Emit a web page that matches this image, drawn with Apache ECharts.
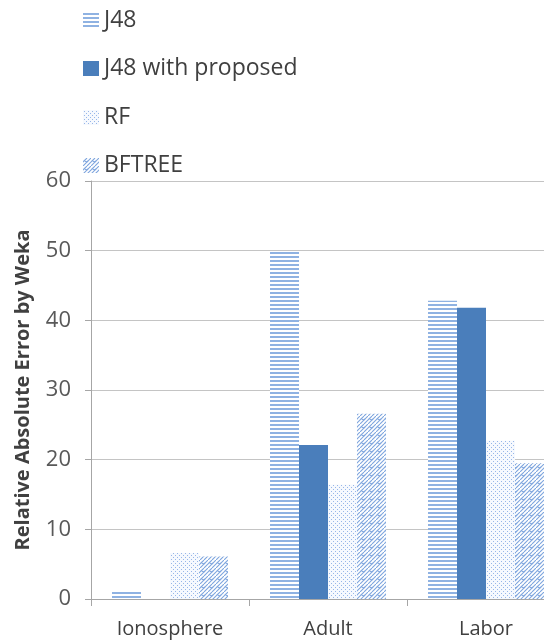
<!DOCTYPE html>
<html>
<head>
<meta charset="utf-8">
<script src="https://cdn.jsdelivr.net/npm/echarts@6/dist/echarts.min.js"></script>
<style>
  html, body { margin: 0; padding: 0; background: #fff; overflow: hidden; }
  #chart { width: 565px; height: 641px; }
</style>
</head>
<body>
<div id="chart"></div>
<script>
// Data
const categories = ['Ionosphere', 'Adult', 'Labor'];
const seriesNames = ['J48', 'J48 with proposed', 'RF', 'BFTREE'];
const j48 = [1.1, 49.8, 42.8];
const j48Proposed = [0, 22.1, 41.8];
const rf = [6.6, 16.4, 22.7];
const bftree = [6.1, 26.6, 19.5];
const yTicks = [0, 10, 20, 30, 40, 50, 60];

// Fill patterns for the hatched bars
function makePattern(w, h, bg, draw) {
  const c = document.createElement('canvas');
  c.width = w; c.height = h;
  const ctx = c.getContext('2d');
  ctx.fillStyle = bg;
  ctx.fillRect(0, 0, w, h);
  draw(ctx);
  return { image: c, repeat: 'repeat' };
}

// horizontal stripes
const stripeFill = makePattern(4, 4, '#ffffff', ctx => {
  ctx.fillStyle = '#8fb2e2';
  ctx.fillRect(0, 0, 4, 2);
});

// sparse dots
const dotFill = makePattern(4, 4, '#f6f9fe', ctx => {
  ctx.fillStyle = '#97b6e8';
  ctx.fillRect(1, 1, 1, 1);
  ctx.fillRect(3, 3, 1, 1);
});

// wavy diagonal weave
const waveFill = makePattern(8, 8, '#ffffff', ctx => {
  ctx.strokeStyle = '#7fa6de';
  ctx.lineWidth = 1.1;
  ctx.beginPath();
  ctx.moveTo(0, 8); ctx.lineTo(8, 0);
  ctx.moveTo(-4, 8); ctx.lineTo(4, 0);
  ctx.moveTo(4, 8); ctx.lineTo(12, 0);
  ctx.stroke();
  ctx.beginPath();
  ctx.moveTo(1, 2); ctx.quadraticCurveTo(3, 5, 5, 3);
  ctx.stroke();
});

const solidFill = '#4a7ebb';

const fills = [stripeFill, solidFill, dotFill, waveFill];
const values = [j48, j48Proposed, rf, bftree];

const font = '"Open Sans", "Noto Sans", sans-serif';
const legendTops = [9, 57, 106, 154];

const chart = echarts.init(document.getElementById('chart'), null, { renderer: 'canvas' });

chart.setOption({
  animation: false,
  backgroundColor: '#ffffff',
  legend: seriesNames.map((name, i) => ({
    data: [name],
    left: 83,
    top: legendTops[i],
    padding: 0,
    itemWidth: 16,
    itemHeight: 15,
    icon: 'rect',
    selectedMode: false,
    textStyle: { fontFamily: font, fontSize: 23, color: '#404040' }
  })),
  grid: { left: 91, top: 181, right: 0, bottom: 42, containLabel: false },
  xAxis: {
    type: 'category',
    data: categories,
    axisLine: { lineStyle: { color: '#a6a6a6', width: 1 } },
    axisTick: { show: true, alignWithLabel: false, length: 7, lineStyle: { color: '#a6a6a6' } },
    axisLabel: { fontFamily: font, fontSize: 20, color: '#404040', margin: 20 }
  },
  yAxis: {
    type: 'value',
    min: yTicks[0],
    max: yTicks[yTicks.length - 1],
    interval: 10,
    name: 'Relative Absolute Error by Weka',
    nameLocation: 'middle',
    nameRotate: 90,
    nameGap: 58,
    nameTextStyle: { fontFamily: font, fontSize: 20, fontWeight: 'bold', color: '#404040' },
    axisLine: { show: true, lineStyle: { color: '#a6a6a6', width: 1 } },
    axisTick: { show: true, length: 6, lineStyle: { color: '#a6a6a6' } },
    axisLabel: { fontFamily: font, fontSize: 22, color: '#595959', margin: 20 },
    splitLine: { lineStyle: { color: '#c4c4c4', width: 1 } }
  },
  series: seriesNames.map((name, i) => ({
    name: name,
    type: 'bar',
    data: values[i],
    barGap: '0%',
    barCategoryGap: '26.6%',
    itemStyle: { color: fills[i] }
  }))
});
</script>
</body>
</html>
